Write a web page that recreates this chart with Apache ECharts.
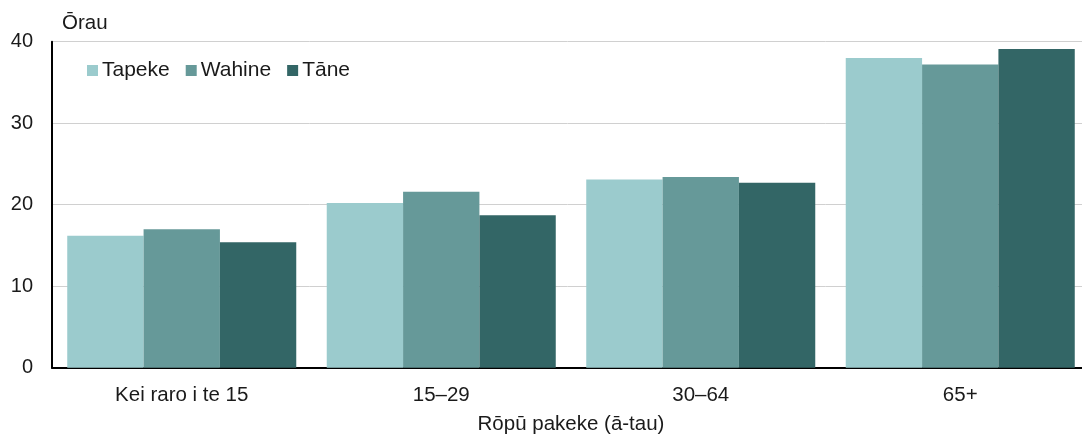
<!DOCTYPE html>
<html><head><meta charset="utf-8">
<script src="https://cdn.jsdelivr.net/npm/echarts@6/dist/echarts.min.js"></script>
<style>html,body{margin:0;padding:0;background:#fff}#c{width:1082px;height:436px}</style>
</head><body><div id="c"></div>
<script>
const categories = ['Kei raro i te 15', '15–29', '30–64', '65+'];
const tapeke = [16.2, 20.2, 23.1, 38.0];
const wahine = [17.0, 21.6, 23.4, 37.2];
const tane = [15.4, 18.7, 22.7, 39.1];
const seriesNames = ['Tapeke', 'Wahine', 'Tāne'];
const colors = ['#9BCBCD', '#669999', '#336666'];
const font = 'Liberation Sans, Arial, sans-serif';
const txt = '#1a1a1a';
const chart = echarts.init(document.getElementById('c'));
chart.setOption({
  animation: false,
  textStyle: {fontFamily: font},
  grid: {left: 52, right: -8, top: 41.7, bottom: 68.3, outerBoundsMode: 'none', containLabel: false},
  legend: {
    left: 82, top: 55, itemWidth: 11, itemHeight: 11, itemGap: 16,
    icon: 'rect',
    textStyle: {fontFamily: font, fontSize: 21, color: txt, padding: [0,0,0,-1]},
    data: seriesNames
  },
  xAxis: {
    type: 'category', data: categories,
    axisLine: {lineStyle: {color: '#000', width: 2}},
    axisTick: {show: false},
    axisLabel: {fontFamily: font, fontSize: 20.5, color: txt, margin: 17},
    name: 'Rōpū pakeke (ā-tau)', nameLocation: 'middle', nameGap: 46,
    nameTextStyle: {fontFamily: font, fontSize: 20.5, color: txt}
  },
  yAxis: {
    type: 'value', min: 0, max: 40, interval: 10,
    axisLine: {show: true, lineStyle: {color: '#000', width: 2}},
    axisTick: {show: false},
    splitLine: {lineStyle: {color: '#d0d0d0', width: 1}},
    axisLabel: {fontFamily: font, fontSize: 20, color: txt, margin: 19},
    name: 'Ōrau', nameLocation: 'end', nameGap: 8,
    nameTextStyle: {fontFamily: font, fontSize: 20.5, color: txt, align: 'left', padding: [0,0,0,10]}
  },
  series: [
    {name: seriesNames[0], type: 'bar', data: tapeke, itemStyle: {color: colors[0]}, barGap: '0%', barCategoryGap: '11.75%'},
    {name: seriesNames[1], type: 'bar', data: wahine, itemStyle: {color: colors[1]}, barGap: '0%', barCategoryGap: '11.75%'},
    {name: seriesNames[2], type: 'bar', data: tane, itemStyle: {color: colors[2]}, barGap: '0%', barCategoryGap: '11.75%'}
  ]
});
</script></body></html>
